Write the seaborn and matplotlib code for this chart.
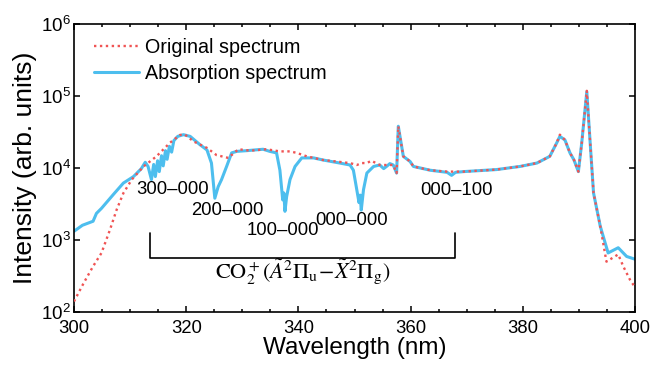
import numpy as np
import pandas as pd
import matplotlib
matplotlib.use("Agg")
import matplotlib.pyplot as plt
import matplotlib.ticker as mticker
import seaborn as sns

# ---- Data ----
abs_wl = [300.0, 301.5, 303.4, 304.0, 304.9, 307.0, 308.8, 310.6, 312.0, 312.7,
          313.2, 313.8, 314.2, 314.5, 314.9, 315.2, 315.6, 315.9, 316.3, 316.6,
          317.0, 317.4, 317.8, 318.5, 319.5, 320.7, 322.5, 323.7, 324.5, 325.1,
          325.7, 326.3, 327.2, 328.1, 329.0, 330.8, 333.7, 334.9, 336.1, 336.7,
          337.2, 337.4, 337.6, 337.9, 338.5, 339.4, 340.6, 342.7, 344.4, 347.4,
          349.2, 349.8, 350.4, 350.8, 351.0, 351.2, 351.6, 352.2, 353.4, 354.5,
          355.2, 355.7, 356.3, 356.9, 357.5, 357.8, 358.7, 359.9, 360.5, 363.5,
          366.5, 367.3, 368.0, 369.4, 375.3, 379.5, 382.5, 384.8, 386.0, 386.6,
          387.5, 388.4, 389.1, 389.9, 390.5, 391.4, 392.0, 392.6, 393.8, 395.2,
          397.0, 398.5, 400.0]
abs_int = [1320, 1600, 1820, 2340, 2750, 4270, 6170, 7590, 9800, 12000,
           10500, 6900, 11200, 7600, 12600, 8900, 14800, 10700, 17400, 13200,
           20000, 16600, 24000, 27500, 29000, 27500, 20900, 17800, 11700, 3800,
           5500, 6900, 10500, 16200, 17000, 17400, 18200, 17000, 16200, 9300,
           3600, 4500, 2500, 4000, 6900, 10500, 13800, 13800, 12900, 11700,
           11000, 9300, 5000, 3300, 4200, 2600, 5000, 8500, 10500, 11000,
           9800, 10500, 11500, 11000, 8500, 38000, 14500, 12300, 10500, 9300,
           8700, 7900, 8700, 8900, 9500, 10500, 11700, 14500, 22000, 27500,
           24500, 16200, 13000, 8900, 22400, 115000, 22400, 4500, 1550, 660,
           780, 590, 540]

orig_wl = [300.0, 301.7, 303.4, 304.9, 306.4, 307.6, 308.8, 310.3, 312.4, 314.7,
           317.1, 318.9, 319.8, 321.3, 323.7, 325.4, 327.5, 329.3, 331.4, 334.3,
           336.7, 338.5, 339.7, 341.5, 344.4, 349.2, 350.4, 351.3, 352.2, 353.0,
           354.5, 356.9, 357.5, 357.8, 358.7, 359.9, 360.5, 363.5, 366.5, 367.3,
           368.0, 369.4, 375.3, 379.5, 382.5, 384.8, 386.0, 386.6, 387.5, 388.4,
           389.1, 389.9, 390.5, 391.4, 392.0, 392.6, 393.8, 394.9, 397.0, 397.9,
           399.1, 400.0]
orig_int = [140, 250, 430, 660, 1380, 2630, 4470, 6900, 10500, 14500,
            22400, 28800, 29000, 23400, 19000, 15100, 13800, 18200, 17400, 18200,
            17000, 17000, 16200, 14500, 12900, 11700, 11000, 11700, 11700, 12600,
            11000, 11000, 8500, 38000, 14500, 12300, 10500, 9300, 8900, 8900,
            8900, 8900, 9500, 10500, 11700, 14500, 22000, 29000,
            24500, 16200, 13000, 8900, 22400, 118000, 22400, 4500, 1550, 500,
            630, 430, 280, 220]

band_labels = ["300\u2013000", "200\u2013000", "100\u2013000", "000\u2013000", "000\u2013100"]
band_label_wl = [317.6, 327.3, 337.3, 349.4, 368.1]
band_label_int = [5000, 2550, 1350, 1850, 4830]

sns.set_style("ticks")
plt.rcParams["font.family"] = ["Liberation Sans", "DejaVu Sans"]
plt.rcParams["mathtext.fontset"] = "custom"
plt.rcParams["mathtext.rm"] = "Liberation Sans"
plt.rcParams["mathtext.it"] = "Liberation Sans:italic"
plt.rcParams["text.color"] = "black"
plt.rcParams["axes.labelcolor"] = "black"
plt.rcParams["xtick.color"] = "black"
plt.rcParams["ytick.color"] = "black"

fig = plt.figure(figsize=(6.52, 3.67), dpi=100)
ax = fig.add_axes([0.1135, 0.150, 0.8605, 0.7846])
ax.set_yscale("log")

orig_df = pd.DataFrame({"wl": orig_wl, "I": orig_int})
abs_df = pd.DataFrame({"wl": abs_wl, "I": abs_int})

sns.lineplot(data=orig_df, x="wl", y="I", ax=ax, color="#F05454", linestyle=(0, (1, 1.5)),
             linewidth=1.7, label="Original spectrum", sort=False, zorder=3)
sns.lineplot(data=abs_df, x="wl", y="I", ax=ax, color="#4DBEEE", linewidth=2.2,
             label="Absorption spectrum", sort=False, zorder=2)

ax.set_xlim(300, 400)
ax.set_ylim(1e2, 1e6)
ax.xaxis.set_major_locator(mticker.MultipleLocator(20))
ax.xaxis.set_minor_locator(mticker.MultipleLocator(5))
ax.yaxis.set_major_locator(mticker.LogLocator(base=10, numticks=10))
ax.yaxis.set_minor_locator(mticker.NullLocator())
ax.yaxis.set_major_formatter(mticker.LogFormatterMathtext())

ax.tick_params(which="both", direction="in", top=True, right=True, width=1.1, colors="black")
ax.tick_params(axis="x", which="major", length=4.5, labelsize=13.3, pad=6)
ax.tick_params(axis="y", which="major", length=4.5, labelsize=13.6, pad=2)
ax.tick_params(which="minor", length=2.5)
for s in ax.spines.values():
    s.set_linewidth(1.2)
    s.set_color("black")

ax.set_xlabel("Wavelength (nm)", fontsize=17.5, labelpad=0)
ax.set_ylabel("Intensity (arb. units)", fontsize=19, labelpad=3)

# band labels
for lab, xw, yi in zip(band_labels, band_label_wl, band_label_int):
    ax.text(xw, yi, lab, fontsize=13.3, ha="center", va="center")

# bracket
ax.plot([313.5, 313.5, 367.9, 367.9], [1260, 570, 570, 1260], color="black", lw=1.2)
ax.text(340.7, 375, r"$\mathrm{CO}_2^+(\tilde{A}^2\Pi_\mathrm{u}\!-\!\tilde{X}^2\Pi_\mathrm{g})$",
        fontsize=16, ha="center", va="center", math_fontfamily="stix")

leg = ax.legend(loc="upper left", bbox_to_anchor=(0.035, 0.95), frameon=False, fontsize=14.2,
                handlelength=2.3, handletextpad=0.3, labelspacing=0.35,
                borderpad=0, borderaxespad=0)

fig.savefig("out.png", dpi=100)
